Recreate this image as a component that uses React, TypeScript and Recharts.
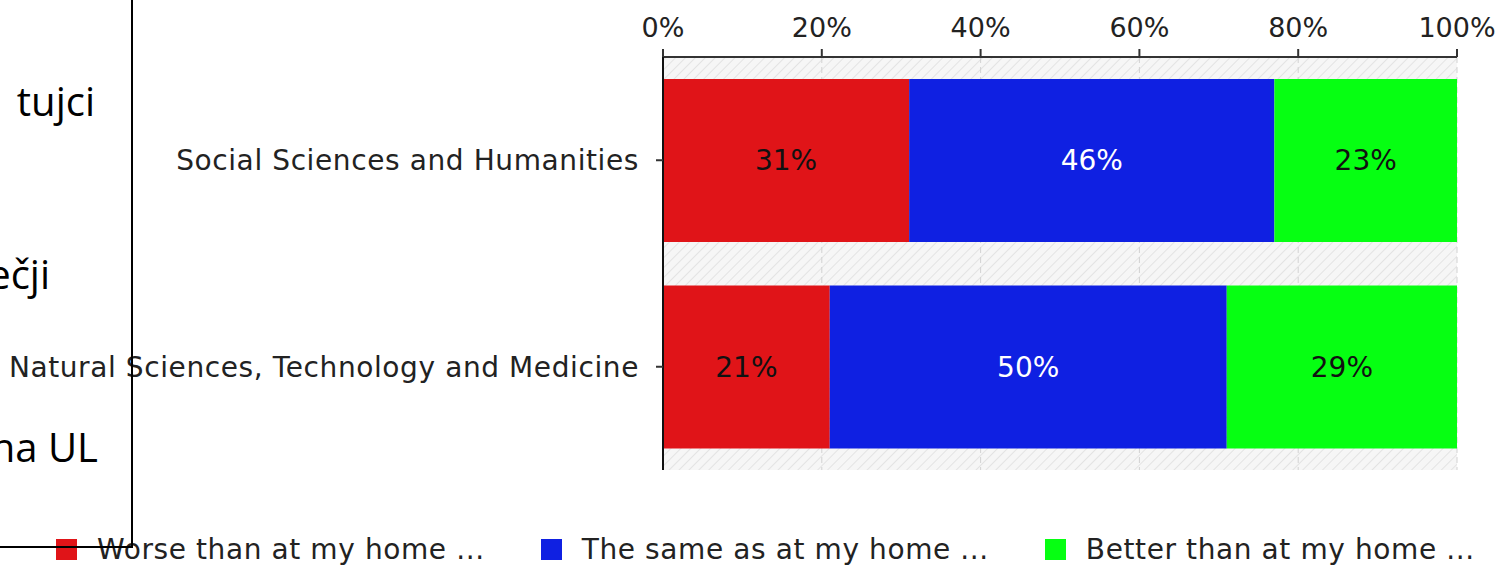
import { Bar, BarChart, CartesianGrid, LabelList, Legend, XAxis, YAxis } from "recharts";

const categories = ["Social Sciences and Humanities", "Natural Sciences, Technology and Medicine"];
const worse = [31, 21];
const same = [46, 50];
const better = [23, 29];
const xTicks = [0, 20, 40, 60, 80, 100];
const seriesNames = ["Worse than at my home ...", "The same as at my home ...", "Better than at my home ..."];
const seriesColors = ["#e01418", "#0f20e2", "#06ff12"];
const labelColors = ["#111", "#fff", "#111"];
const boxLines = ["tujci", "ečji", "na UL"];

const data = categories.map((name, i) => ({
  name,
  worse: worse[i],
  same: same[i],
  better: better[i]
}));

const keys = ["worse", "same", "better"];
const font = "'DejaVu Sans', sans-serif";

function ChartLegend() {
  return (
    <div
      style={{
        height: 96,
        display: "flex",
        alignItems: "flex-end",
        paddingLeft: 56,
        gap: 56,
        fontFamily: font,
        fontSize: 28,
        letterSpacing: 0.6,
        color: "#222",
        boxSizing: "border-box",
        paddingBottom: 0
      }}
    >
      {seriesNames.map((n, i) => (
        <div key={n} style={{ display: "flex", alignItems: "center", gap: 20, whiteSpace: "nowrap" }}>
          <span style={{ width: 21, height: 21, background: seriesColors[i], display: "inline-block" }} />
          <span>{n}</span>
        </div>
      ))}
    </div>
  );
}

export default function App() {
  return (
    <div style={{ position: "absolute", left: 0, top: 0, width: 1499, height: 566, overflow: "hidden", background: "#fff" }}>
      <BarChart
        width={1499}
        height={566}
        data={data}
        layout="vertical"
        margin={{ top: 0, right: 42, bottom: 0, left: 0 }}
        barCategoryGap={22}
      >
        <defs>
          <pattern id="hatch" width="7" height="7" patternUnits="userSpaceOnUse" patternTransform="rotate(45)">
            <rect width="7" height="7" fill="#f6f6f6" />
            <line x1="0" y1="0" x2="0" y2="7" stroke="#e3e3e3" strokeWidth="2" />
          </pattern>
        </defs>
        <CartesianGrid horizontal={false} fill="url(#hatch)" fillOpacity={1} stroke="#d2d2d2" strokeDasharray="6 4" />
        <XAxis
          type="number"
          orientation="top"
          domain={[0, 100]}
          ticks={xTicks}
          tickFormatter={(v) => `${v}%`}
          height={57}
          tickSize={8}
          tickMargin={12}
          axisLine={{ stroke: "#333", strokeWidth: 2 }}
          tickLine={{ stroke: "#333", strokeWidth: 2 }}
          tick={{ fill: "#222", fontSize: 27, fontFamily: font }}
          interval={0}
        />
        <YAxis
          type="category"
          dataKey="name"
          width={663}
          tickSize={7}
          tickMargin={17}
          axisLine={{ stroke: "#111", strokeWidth: 2 }}
          tickLine={{ stroke: "#333", strokeWidth: 2 }}
          tick={{ fill: "#222", fontSize: 28, fontFamily: font, letterSpacing: 0.6 }}
        />
        <Legend verticalAlign="bottom" content={() => <ChartLegend />} />
        {keys.map((k, i) => (
          <Bar key={k} dataKey={k} name={seriesNames[i]} stackId="a" fill={seriesColors[i]} isAnimationActive={false}>
            <LabelList
              dataKey={k}
              position="center"
              formatter={(v: number) => `${v}%`}
              fill={labelColors[i]}
              style={{ fontSize: 28, fontFamily: font }}
            />
          </Bar>
        ))}
      </BarChart>
      <div
        style={{
          position: "absolute",
          left: -300,
          top: -100,
          width: 433,
          height: 648,
          border: "2px solid #000",
          boxSizing: "border-box",
          pointerEvents: "none"
        }}
      />
      {boxLines.map((t, i) => (
        <div
          key={t}
          style={{
            position: "absolute",
            right: [1404, 1449, 1401][i],
            top: [76, 249, 422][i],
            fontFamily: "'Open Sans', sans-serif",
            fontSize: 40,
            lineHeight: "50px",
            color: "#000",
            whiteSpace: "nowrap"
          }}
        >
          {t}
        </div>
      ))}
    </div>
  );
}
